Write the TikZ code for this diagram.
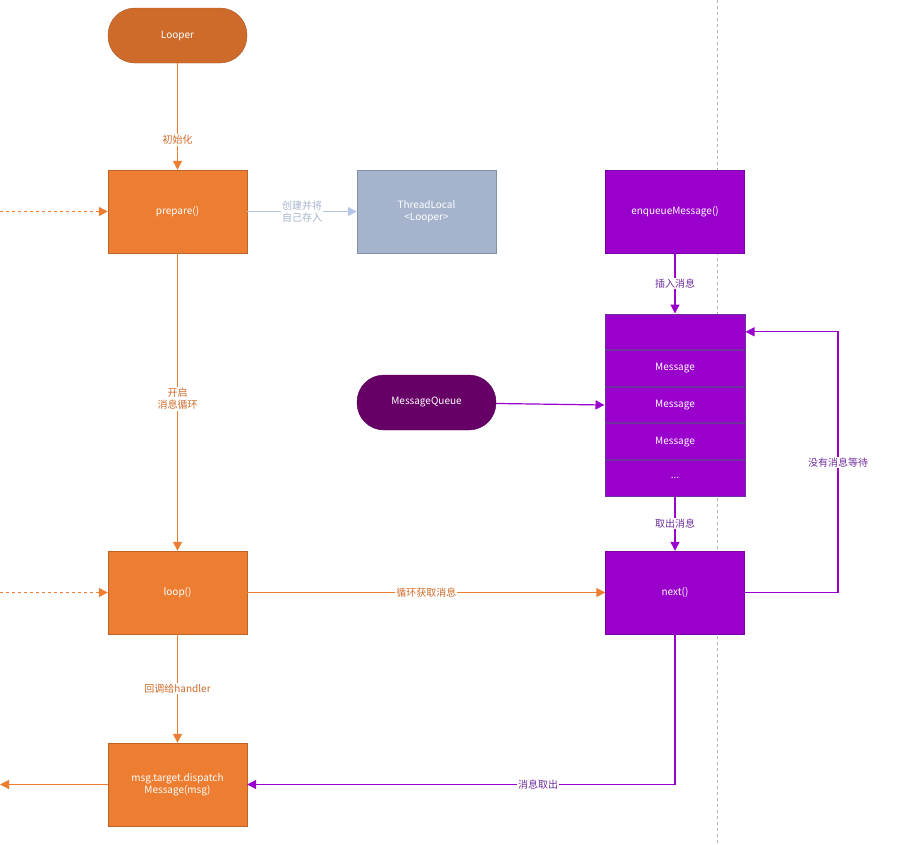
\documentclass[tikz,border=0pt]{standalone}
\usepackage{fontspec}
\setmainfont{Noto Sans CJK SC}
\usetikzlibrary{arrows.meta}
\definecolor{lo}{HTML}{CF6B2A}
\definecolor{or}{HTML}{ED7D31}
\definecolor{tl}{HTML}{A5B4CC}
\definecolor{tlt}{HTML}{B4C7E7}
\definecolor{pu}{HTML}{9900CC}
\definecolor{pud}{HTML}{7030A0}
\definecolor{mq}{HTML}{660066}
\begin{document}
\begin{tikzpicture}[x=1pt,y=-1pt,font=\fontsize{10}{12}\selectfont,
 box/.style={draw=#1!80!black,fill=#1,text=white,minimum width=139pt,minimum height=83pt,align=center,inner sep=0},
 pill/.style={draw=#1!80!black,fill=#1,text=white,rounded corners=27pt,minimum width=139pt,minimum height=55pt,inner sep=0},
 row/.style={draw=pud,fill=pu,text=white,minimum width=140pt,minimum height=35.6pt,inner sep=0,line width=1pt},
 oa/.style={draw=or,line width=1.2pt,-{Triangle[length=9pt,width=9pt]}},
 pa/.style={draw=pu,line width=1.2pt,-{Triangle[length=9pt,width=9pt]}},
 lbl/.style={fill=white,inner sep=1pt,align=center}]
\useasboundingbox (0,0) rectangle (924,844);
\draw[gray!60,dashed] (717,0) -- (717,844);
\node[pill=lo] (looper) at (177.5,35.5) {Looper};
\node[box=or] (prep) at (177.5,211.5) {prepare()};
\node[box=tl] (tlocal) at (426.5,211.5) {ThreadLocal\\<Looper>};
\node[box=pu] (enq) at (675,211.5) {enqueueMessage()};
\node[row] (r0) at (675,331.8) {};
\node[row,anchor=north] (r1) at (r0.south) {Message};
\node[row,anchor=north] (r2) at (r1.south) {Message};
\node[row,anchor=north] (r3) at (r2.south) {Message};
\node[row,anchor=north] (r4) at (r3.south) {...};
\node[pill=mq] (mq) at (426.5,402.5) {MessageQueue};
\node[box=or] (loop) at (177.5,592.5) {loop()};
\node[box=pu] (next) at (675,592.5) {next()};
\node[box=or] (disp) at (177.5,784.5) {msg.target.dispatch\\Message(msg)};
\coordinate (lin1) at (0,211.5);
\coordinate (lin2) at (0,592.5);
\coordinate (lout) at (0,784.5);
\draw[oa,dashed] (lin1) -- (prep.west);
\draw[oa,dashed] (lin2) -- (loop.west);
\draw[oa] (disp.west) -- (lout);
\draw[oa] (looper) -- node[lbl,text=lo,pos=0.72]{初始化} (prep);
\draw[draw=tlt,line width=1.2pt,-{Triangle[length=9pt,width=9pt]}] (prep) -- node[lbl,text=tl]{创建并将\\自己存入} (tlocal);
\draw[oa] (prep) -- node[lbl,text=lo,pos=0.49]{开启\\消息循环} (loop);
\draw[oa] (loop) -- node[lbl,text=lo]{循环获取消息} (next);
\draw[oa] (loop) -- node[lbl,text=lo,pos=0.5]{回调给handler} (disp);
\draw[pa] (enq) -- node[lbl,text=pud]{插入消息} (r0.north);
\draw[pa] (r4.south) -- node[lbl,text=pud]{取出消息} (next);
\draw[pa] (mq) -- (r2.west);
\draw[pa] (next.east) -- (838,592.5) -- node[lbl,text=pud,pos=0.5]{没有消息等待} (838,331.8) -- (r0.east);
\draw[pa] (next.south) -- (675,784.5) -- node[lbl,text=pud,pos=0.32]{消息取出} (disp.east);
\end{tikzpicture}
\end{document}
